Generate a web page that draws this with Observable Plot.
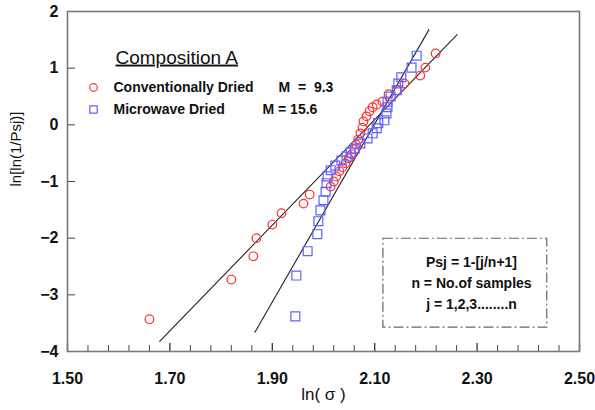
<!DOCTYPE html>
<html><head><meta charset="utf-8">
<script src="https://cdn.jsdelivr.net/npm/d3@7"></script>
<script src="https://cdn.jsdelivr.net/npm/@observablehq/plot@0.6"></script>
<style>body{margin:0;background:#fff} svg{display:block}</style>
</head><body><div id="chart"></div>
<script>
// Conventionally dried (red circles)
const convX = [1.660,1.820,1.863,1.869,1.900,1.918,1.961,1.973,2.014,2.020,2.025,2.031,2.037,2.043,2.049,2.055,2.061,2.064,2.068,2.072,2.076,2.078,2.084,2.090,2.096,2.104,2.115,2.127,2.143,2.158,2.189,2.199,2.219];
const convY = [-3.43,-2.73,-2.32,-2.00,-1.76,-1.56,-1.39,-1.23,-1.09,-1.00,-0.91,-0.82,-0.75,-0.68,-0.59,-0.52,-0.43,-0.35,-0.26,-0.15,-0.05,0.06,0.15,0.24,0.31,0.36,0.41,0.54,0.61,0.73,0.87,1.01,1.26];
// Microwave dried (blue squares)
const microX = [1.945,1.947,1.969,1.988,1.990,1.994,2.000,2.004,2.006,2.008,2.014,2.023,2.035,2.045,2.053,2.061,2.072,2.086,2.096,2.104,2.107,2.119,2.123,2.125,2.125,2.131,2.143,2.146,2.152,2.172,2.182];
const microY = [-3.38,-2.66,-2.23,-1.93,-1.70,-1.51,-1.33,-1.18,-1.03,-0.91,-0.80,-0.72,-0.63,-0.56,-0.49,-0.42,-0.33,-0.24,-0.15,-0.06,0.03,0.08,0.20,0.31,0.41,0.50,0.61,0.73,0.84,1.01,1.22];
// Fitted Weibull lines (endpoints)
const fitConvX = [1.680, 2.261];
const fitConvY = [-3.82, 1.59];
const fitMicroX = [1.866, 2.206];
const fitMicroY = [-3.66, 1.68];
// Axis ticks
const xTickLabels = [1.50,1.70,1.90,2.10,2.30,2.50];
const xMinorTicks = [1.54,1.58,1.62,1.66,1.74,1.78,1.82,1.86,1.94,1.98,2.02,2.06,2.14,2.18,2.22,2.26,2.34,2.38,2.42,2.46];
const yTickLabels = [-4,-3,-2,-1,0,1,2];
// Texts
const legendTitle = "Composition A";
const legendLabels = ["Conventionally Dried","Microwave Dried"];
const legendM = ["M\u00a0 =\u00a0 9.3","M = 15.6"];
const noteLines = ["Psj = 1-[j/n+1]","n = No.of samples","j = 1,2,3........n"];
const noteBoxX = [2.117, 2.437];
const noteBoxY = [-2.01, -3.58];
const xLabel = "ln( \u03c3 )";
const yLabel = "ln[ln(1/Psj)]";

const RED = "#ff3030", BLUE = "#6060ff";
const W = 595, H = 410, ML = 67, MR = 16, MT = 11, MB = 59;
const innerW = W - ML - MR, innerH = H - MT - MB;

const plot = Plot.plot({
  width: W, height: H,
  marginLeft: ML, marginRight: MR, marginTop: MT, marginBottom: MB,
  style: {fontFamily: "'Liberation Sans', Arial, sans-serif", background: "#fff", color: "#111"},
  x: {domain: [1.5, 2.5]},
  y: {domain: [-4, 2]},
  marks: [
    Plot.tickX(xMinorTicks, {x: d => d, insetTop: innerH - 6, stroke: "#444"}),
    Plot.tickX(xTickLabels, {x: d => d, insetTop: innerH - 8, stroke: "#333", strokeWidth: 1.3}),
    Plot.tickY(yTickLabels, {y: d => d, insetRight: innerW - 8, stroke: "#444"}),
    Plot.frame({stroke: "#7a7a7a", strokeWidth: 1.6}),
    Plot.axisX(xTickLabels, {tickSize: 0, tickPadding: 21, tickFormat: d3.format(".2f"), fontSize: 16, fontWeight: "bold", label: null}),
    Plot.axisY(yTickLabels, {tickSize: 0, tickPadding: 9, tickFormat: d3.format("d"), fontSize: 16, fontWeight: "bold", label: null}),
    Plot.text([xLabel], {text: d => d, frameAnchor: "bottom", dy: 48, fontSize: 17}),
    Plot.text([yLabel], {text: d => d, frameAnchor: "left", rotate: -90, dx: -51, dy: 5, fontSize: 15}),
    Plot.line(fitConvX, {x: d => d, y: (d, i) => fitConvY[i], stroke: "#222", strokeWidth: 1.1}),
    Plot.line(fitMicroX, {x: d => d, y: (d, i) => fitMicroY[i], stroke: "#222", strokeWidth: 1.1}),
    Plot.dot(convX, {x: d => d, y: (d, i) => convY[i], r: 4.3, stroke: RED, strokeWidth: 1.2, symbol: "circle"}),
    Plot.dot(microX, {x: d => d, y: (d, i) => microY[i], r: 5, stroke: BLUE, strokeWidth: 1.2, symbol: "square"}),
    // legend
    Plot.text([legendTitle], {text: d => d, frameAnchor: "top-left", dx: 48, dy: 46, textAnchor: "start", lineAnchor: "middle", fontSize: 19}),
    Plot.dot([0], {frameAnchor: "top-left", dx: 26, dy: 76, r: 3.8, stroke: RED, strokeWidth: 1.2, symbol: "circle"}),
    Plot.dot([0], {frameAnchor: "top-left", dx: 26, dy: 98, r: 4.2, stroke: BLUE, strokeWidth: 1.2, symbol: "square"}),
    Plot.text([legendLabels[0]], {text: d => d, frameAnchor: "top-left", dx: 46, dy: 76, textAnchor: "start", lineAnchor: "middle", fontSize: 14, fontWeight: "bold"}),
    Plot.text([legendLabels[1]], {text: d => d, frameAnchor: "top-left", dx: 46, dy: 98, textAnchor: "start", lineAnchor: "middle", fontSize: 14, fontWeight: "bold"}),
    Plot.text([legendM[0]], {text: d => d, frameAnchor: "top-left", dx: 211, dy: 76, textAnchor: "start", lineAnchor: "middle", fontSize: 14, fontWeight: "bold"}),
    Plot.text([legendM[1]], {text: d => d, frameAnchor: "top-left", dx: 195, dy: 98, textAnchor: "start", lineAnchor: "middle", fontSize: 14, fontWeight: "bold"}),
    // note box
    Plot.rect([0], {x1: noteBoxX[0], x2: noteBoxX[1], y1: noteBoxY[0], y2: noteBoxY[1], fill: "none", stroke: "#666", strokeWidth: 1.2, strokeDasharray: "10,3,2,3"}),
    Plot.text([noteLines.join("\n")], {text: d => d, frameAnchor: "top-left", dx: 404, dy: 270, textAnchor: "middle", lineAnchor: "middle", lineHeight: 1.5, fontSize: 14, fontWeight: "bold"})
  ]
});
document.getElementById("chart").appendChild(plot);
d3.select(plot).selectAll("text").filter(function(){ return this.textContent === legendTitle; }).style("text-decoration", "underline");
</script>
</body></html>
